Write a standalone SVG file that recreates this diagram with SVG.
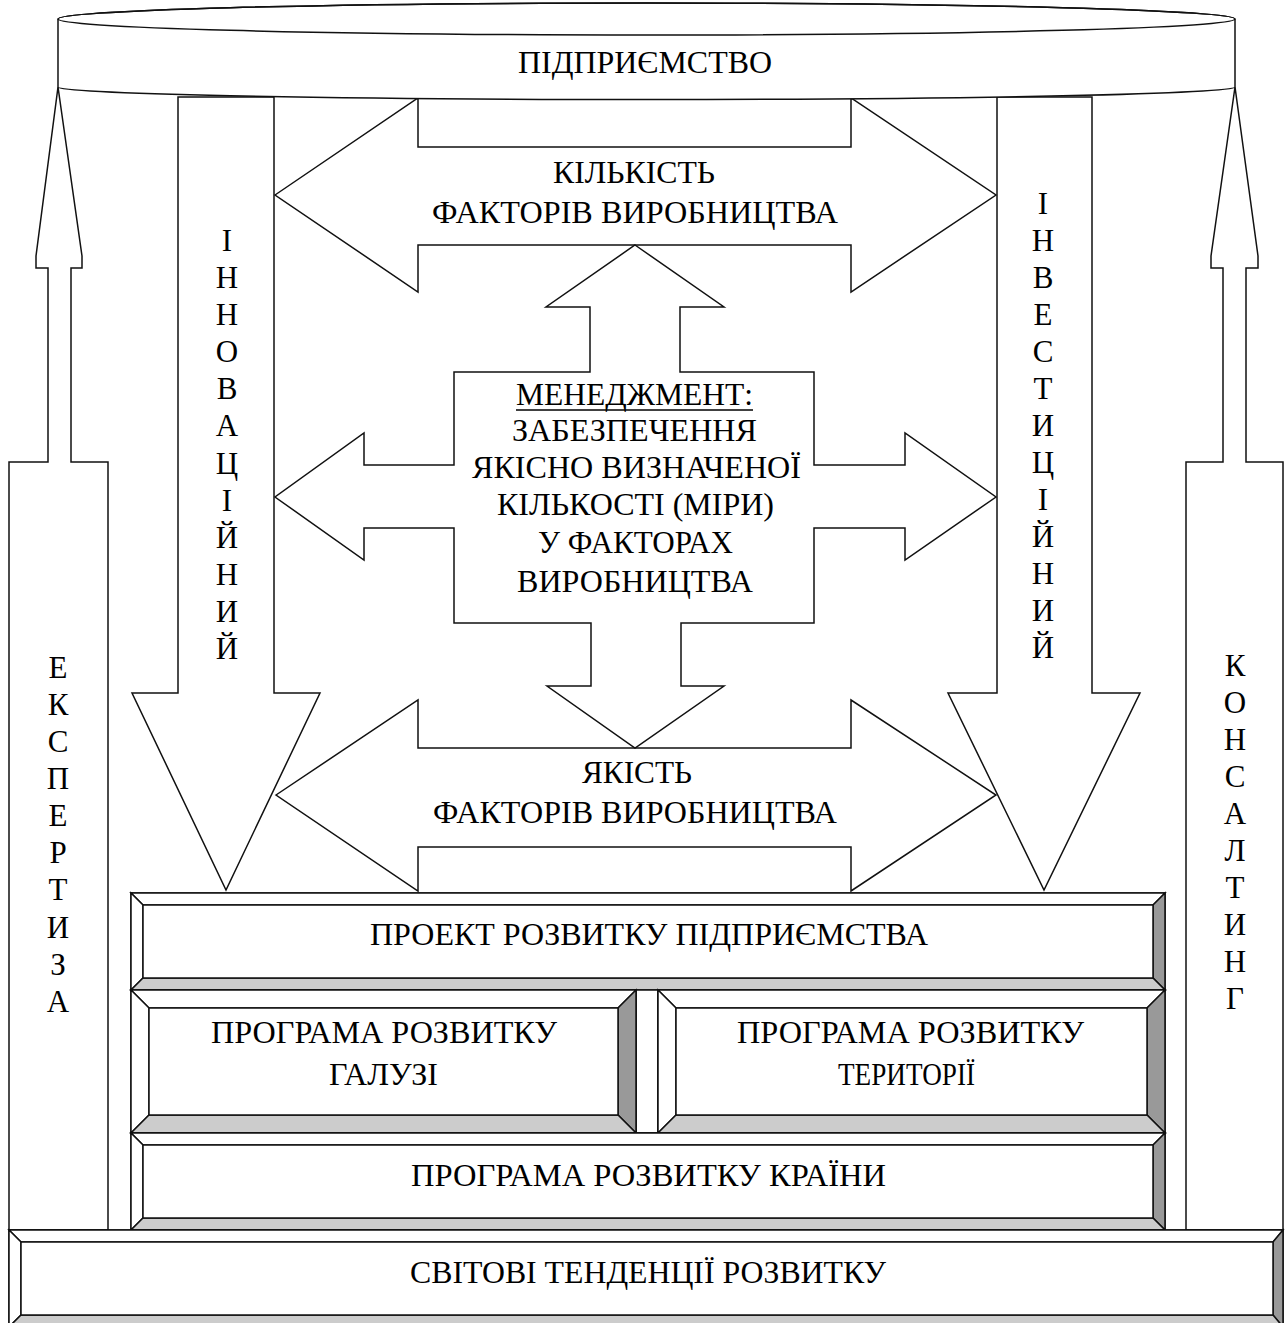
<svg xmlns="http://www.w3.org/2000/svg" width="1288" height="1323" viewBox="0 0 1288 1323">
<style>
.s{fill:#fff;stroke:#111;stroke-width:1.5;stroke-linejoin:miter}
.w{fill:#fff;stroke:#111;stroke-width:1.5}
.l{fill:#ccc;stroke:#111;stroke-width:1.5}
.d{fill:#999;stroke:#111;stroke-width:1.5}
.t{font-family:"Liberation Serif","Times New Roman",serif;font-size:31px;fill:#000;text-anchor:middle}
</style>
<rect width="1288" height="1323" fill="#fff"/>
<g id="connectors">
<g id="expertyza">
<polygon class="s" points="9,1230 9,462 48,462 48,268 36,268 36,256 58,87 82,256 82,268 71,268 71,462 108,462 108,1230"/>
<text class="t"><tspan x="58" y="678">Е</tspan><tspan x="58" y="715">К</tspan><tspan x="58" y="752">С</tspan><tspan x="58" y="789">П</tspan><tspan x="58" y="826">Е</tspan><tspan x="58" y="863">Р</tspan><tspan x="58" y="900">Т</tspan><tspan x="58" y="938">И</tspan><tspan x="58" y="975">З</tspan><tspan x="58" y="1012">А</tspan></text>
</g>
<g id="konsaltyng">
<polygon class="s" points="1283,1230 1283,462 1246,462 1246,268 1258,268 1258,256 1235,87 1211,256 1211,268 1223,268 1223,462 1186,462 1186,1230"/>
<text class="t"><tspan x="1235" y="676">К</tspan><tspan x="1235" y="713">О</tspan><tspan x="1235" y="750">Н</tspan><tspan x="1235" y="787">С</tspan><tspan x="1235" y="824">А</tspan><tspan x="1235" y="861">Л</tspan><tspan x="1235" y="898">Т</tspan><tspan x="1235" y="935">И</tspan><tspan x="1235" y="972">Н</tspan><tspan x="1235" y="1009">Г</tspan></text>
</g>
<g id="innovatsiinyi">
<polygon class="s" points="178,97 274,97 274,693 320,693 226,890 132,693 178,693"/>
<text class="t"><tspan x="227" y="251">І</tspan><tspan x="227" y="288">Н</tspan><tspan x="227" y="325">Н</tspan><tspan x="227" y="362">О</tspan><tspan x="227" y="399">В</tspan><tspan x="227" y="436">А</tspan><tspan x="227" y="474">Ц</tspan><tspan x="227" y="511">І</tspan><tspan x="227" y="548">Й</tspan><tspan x="227" y="585">Н</tspan><tspan x="227" y="622">И</tspan><tspan x="227" y="659">Й</tspan></text>
</g>
<g id="investytsiinyi">
<polygon class="s" points="997,97 1092,97 1092,693 1140,693 1044,890 948,693 997,693"/>
<text class="t"><tspan x="1043" y="214">І</tspan><tspan x="1043" y="251">Н</tspan><tspan x="1043" y="288">В</tspan><tspan x="1043" y="325">Е</tspan><tspan x="1043" y="362">С</tspan><tspan x="1043" y="399">Т</tspan><tspan x="1043" y="436">И</tspan><tspan x="1043" y="473">Ц</tspan><tspan x="1043" y="510">І</tspan><tspan x="1043" y="547">Й</tspan><tspan x="1043" y="584">Н</tspan><tspan x="1043" y="621">И</tspan><tspan x="1043" y="658">Й</tspan></text>
</g>
<g id="kilkist">
<polygon class="s" points="275,195 418,98 418,147 851,147 851,98 996,195 851,292 851,245 418,245 418,292"/>
<text class="t" x="634" y="183" textLength="162" lengthAdjust="spacingAndGlyphs">КІЛЬКІСТЬ</text>
<text class="t" x="635" y="223" textLength="406" lengthAdjust="spacingAndGlyphs">ФАКТОРІВ ВИРОБНИЦТВА</text>
</g>
<g id="yakist">
<polygon class="s" points="276,795 418,700 418,748 851,748 851,700 996,795 851,891 851,847 418,847 418,891"/>
<text class="t" x="637" y="783" textLength="110" lengthAdjust="spacingAndGlyphs">ЯКІСТЬ</text>
<text class="t" x="635" y="823" textLength="404" lengthAdjust="spacingAndGlyphs">ФАКТОРІВ ВИРОБНИЦТВА</text>
</g>
<g id="menedzhment">
<polygon class="s" points="635,245 724,307 680,307 680,372 814,372 814,465 905,465 905,433 996,497 905,560 905,528 814,528 814,623 681,623 681,686 724,686 635,748 547,686 591,686 591,623 454,623 454,528 364,528 364,560 275,497 364,433 364,465 454,465 454,372 590,372 590,307 546,307"/>
<text class="t" x="634.5" y="405" textLength="237" lengthAdjust="spacingAndGlyphs">МЕНЕДЖМЕНТ:</text>
<line x1="516" y1="410" x2="753" y2="410" stroke="#000" stroke-width="1.5"/>
<text class="t" x="634.5" y="441" textLength="245" lengthAdjust="spacingAndGlyphs">ЗАБЕЗПЕЧЕННЯ</text>
<text class="t" x="636.5" y="478" textLength="329" lengthAdjust="spacingAndGlyphs">ЯКІСНО ВИЗНАЧЕНОЇ</text>
<text class="t" x="635.5" y="515" textLength="277" lengthAdjust="spacingAndGlyphs">КІЛЬКОСТІ (МІРИ)</text>
<text class="t" x="635.5" y="553" textLength="195" lengthAdjust="spacingAndGlyphs">У ФАКТОРАХ</text>
<text class="t" x="635" y="592" textLength="236" lengthAdjust="spacingAndGlyphs">ВИРОБНИЦТВА</text>
</g>
</g>
<g id="pidpryiemstvo">
<path class="s" d="M58,19 A588.5,16 0 0 1 1235,19 V87 A588.5,12.5 0 0 1 58,87 Z"/>
<ellipse cx="646.5" cy="19" rx="588.5" ry="16" fill="none" stroke="#111" stroke-width="1.5"/>
<text class="t" x="645" y="73" textLength="254" lengthAdjust="spacingAndGlyphs">ПІДПРИЄМСТВО</text>
</g>
<g id="proekt">
<rect class="w" x="131" y="893" width="1034" height="97"/>
<polygon class="w" points="131,893 1165,893 1153,905 143,905"/>
<polygon class="w" points="131,893 143,905 143,978 131,990"/>
<polygon class="d" points="1165,893 1165,990 1153,978 1153,905"/>
<polygon class="l" points="131,990 143,978 1153,978 1165,990"/>
<rect class="w" x="143" y="905" width="1010" height="73"/>
<text class="t" x="649" y="945" textLength="558" lengthAdjust="spacingAndGlyphs">ПРОЕКТ РОЗВИТКУ ПІДПРИЄМСТВА</text>
</g>
<g id="strip">
<rect class="w" x="636" y="990" width="22" height="143"/>
</g>
<g id="galuzi">
<rect class="w" x="131" y="990" width="505" height="143"/>
<polygon class="w" points="131,990 636,990 618,1008 149,1008"/>
<polygon class="w" points="131,990 149,1008 149,1115 131,1133"/>
<polygon class="d" points="636,990 636,1133 618,1115 618,1008"/>
<polygon class="l" points="131,1133 149,1115 618,1115 636,1133"/>
<rect class="w" x="149" y="1008" width="469" height="107"/>
<text class="t" x="384" y="1043" textLength="346" lengthAdjust="spacingAndGlyphs">ПРОГРАМА РОЗВИТКУ</text>
<text class="t" x="383.5" y="1085" textLength="109" lengthAdjust="spacingAndGlyphs">ГАЛУЗІ</text>
</g>
<g id="terytorii">
<rect class="w" x="658" y="990" width="507" height="143"/>
<polygon class="w" points="658,990 1165,990 1147,1008 676,1008"/>
<polygon class="w" points="658,990 676,1008 676,1115 658,1133"/>
<polygon class="d" points="1165,990 1165,1133 1147,1115 1147,1008"/>
<polygon class="l" points="658,1133 676,1115 1147,1115 1165,1133"/>
<rect class="w" x="676" y="1008" width="471" height="107"/>
<text class="t" x="910.5" y="1043" textLength="347" lengthAdjust="spacingAndGlyphs">ПРОГРАМА РОЗВИТКУ</text>
<text class="t" x="906.5" y="1085" textLength="137" lengthAdjust="spacingAndGlyphs">ТЕРИТОРІЇ</text>
</g>
<g id="krainy">
<rect class="w" x="131" y="1133" width="1034" height="97"/>
<polygon class="w" points="131,1133 1165,1133 1153,1145 143,1145"/>
<polygon class="w" points="131,1133 143,1145 143,1218 131,1230"/>
<polygon class="d" points="1165,1133 1165,1230 1153,1218 1153,1145"/>
<polygon class="l" points="131,1230 143,1218 1153,1218 1165,1230"/>
<rect class="w" x="143" y="1145" width="1010" height="73"/>
<text class="t" x="648.5" y="1186" textLength="475" lengthAdjust="spacingAndGlyphs">ПРОГРАМА РОЗВИТКУ КРАЇНИ</text>
</g>
<g id="svitovi">
<rect class="w" x="9" y="1230" width="1274" height="97"/>
<polygon class="w" points="9,1230 1283,1230 1273,1242 21,1242"/>
<polygon class="w" points="9,1230 21,1242 21,1315 9,1327"/>
<polygon class="d" points="1283,1230 1283,1327 1273,1315 1273,1242"/>
<polygon class="l" points="9,1327 21,1315 1273,1315 1283,1327"/>
<rect class="w" x="21" y="1242" width="1252" height="73"/>
<text class="t" x="648" y="1283" textLength="476" lengthAdjust="spacingAndGlyphs">СВІТОВІ ТЕНДЕНЦІЇ РОЗВИТКУ</text>
</g>
</svg>
